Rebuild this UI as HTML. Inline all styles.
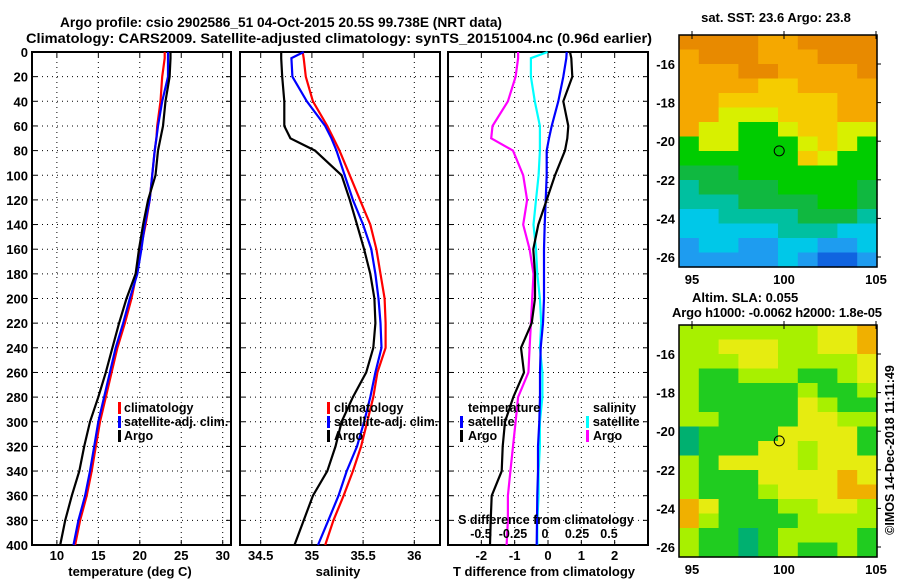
<!DOCTYPE html>
<html><head><meta charset="utf-8">
<style>
html,body{margin:0;padding:0;background:#fff;}
svg{display:block;font-family:"Liberation Sans",Arial,sans-serif;font-weight:bold;}
</style></head>
<body>
<svg id="chart" width="900" height="580" viewBox="0 0 900 580" xmlns="http://www.w3.org/2000/svg">
<text x="60" y="27" font-size="14" textLength="442" lengthAdjust="spacingAndGlyphs">Argo profile: csio 2902586_51 04-Oct-2015 20.5S 99.738E (NRT data)</text>
<text x="26" y="43" font-size="14" textLength="626" lengthAdjust="spacingAndGlyphs">Climatology: CARS2009. Satellite-adjusted climatology: synTS_20151004.nc (0.96d earlier)</text>
<g id="layer"></g>
</svg>
<script>
// ---- data ----
const depths = [0,5,20,40,60,70,80,100,120,140,160,180,200,220,240,260,280,300,320,340,360,380,400];
const tempClim = [23.0,23.0,22.7,22.5,22.1,22.0,21.8,21.5,21.2,20.7,20.1,19.6,19.0,18.2,17.3,16.6,15.9,15.2,14.7,14.2,13.6,12.8,12.2];
const tempSat  = [23.4,23.4,23.4,22.7,22.2,22.0,21.8,21.5,21.2,20.6,20.2,19.7,18.8,18.0,17.1,16.4,15.7,15.0,14.5,14.0,13.4,12.6,12.0];
const tempArgo = [23.7,23.7,23.6,23.1,22.8,22.5,22.2,21.9,21.0,20.4,19.9,19.5,18.4,17.5,16.7,15.9,15.0,14.0,13.3,12.7,11.8,11.0,10.4];
const salClim = [34.91,34.92,34.94,35.01,35.15,35.21,35.27,35.37,35.47,35.57,35.63,35.67,35.71,35.72,35.72,35.64,35.60,35.54,35.48,35.40,35.31,35.21,35.13];
const salSat  = [34.92,34.80,34.81,34.95,35.13,35.19,35.24,35.32,35.40,35.50,35.58,35.62,35.65,35.67,35.68,35.62,35.57,35.51,35.44,35.34,35.26,35.16,35.06];
const salArgo = [34.70,34.70,34.71,34.73,34.73,34.79,35.03,35.29,35.37,35.44,35.51,35.57,35.61,35.62,35.60,35.53,35.40,35.29,35.23,35.15,35.01,34.92,34.83];
const tDiffSat  = [0.56,0.55,0.46,0.31,0.11,0.03,-0.04,-0.04,-0.07,-0.10,-0.12,-0.12,-0.12,-0.15,-0.22,-0.24,-0.24,-0.26,-0.30,-0.30,-0.32,-0.33,-0.34];
const tDiffArgo = [0.66,0.70,0.73,0.46,0.61,0.58,0.51,0.21,-0.04,-0.29,-0.44,-0.39,-0.39,-0.49,-0.81,-0.72,-1.04,-1.29,-1.36,-1.39,-1.69,-1.72,-1.74];
const sDiffSat  = [0.02,-0.11,-0.11,-0.08,-0.04,-0.04,-0.04,-0.05,-0.07,-0.09,-0.07,-0.06,-0.04,-0.03,-0.04,-0.02,-0.02,-0.04,-0.04,-0.05,-0.05,-0.06,-0.06];
const sDiffArgo = [-0.21,-0.21,-0.23,-0.29,-0.41,-0.42,-0.25,-0.17,-0.14,-0.17,-0.12,-0.09,-0.10,-0.11,-0.12,-0.13,-0.21,-0.23,-0.25,-0.27,-0.29,-0.29,-0.30];
const depthTicks = [0,20,40,60,80,100,120,140,160,180,200,220,240,260,280,300,320,340,360,380,400];
const tempTicks = [10,15,20,25,30];
const salTicks = [34.5,35,35.5,36];
const tDiffTicks = [-2,-1,0,1,2];
const sDiffTicks = [-0.5,-0.25,0,0.25,0.5];
const lonTicks = [95,100,105];
const latTicks = [-16,-18,-20,-22,-24,-26];
const sstGrid = ["DDDDOODDDD","ODDDOOODDD","OOODDOOOOD","OOOOYYOOOO","OOYYYYYYOO","OOLLLYYYOO","OLLGGLYYLL","GLLGGGLYLG","GGGGGGYLGG","KKKGGGGGGG","TKKKKGGGGK","TTTKKKKGGK","CCTTTTKKKT","CCCCCTTTCC","BCCBBCCBBC","BBBBBCBNNB"];
const slaGrid = ["LLLLLLLYYO","LLYYYLLYYO","LLLYYLLLLY","LKKLLLKKLY","LKKKKKLKKL","LKKKKKYLKK","LLKKKKYYLL","TKKKKYYYYK","TKKKYYLYYK","LKYYYYLYYY","LKKKYYYYOY","LKKKLYYYOO","OYKKKLLYYL","OLKKKKLLLL","LKKTKLLLLK","LKKTKLKKLK"];
const profileLon = 99.74, profileLat = -20.5;

// ---- helpers ----
const NS="http://www.w3.org/2000/svg";
const layer=document.getElementById('layer');
function mk(tag,attrs,parent){const e=document.createElementNS(NS,tag);for(const k in attrs)e.setAttribute(k,attrs[k]);(parent||layer).appendChild(e);return e;}
const top0=52, bot0=545;
const yD=d=>top0+(bot0-top0)*d/400;
function lin(d0,d1,r0,r1){return v=>r0+(v-d0)*(r1-r0)/(d1-d0);}

function panel(name,x0,x1,xs,xticks,fmt,showY,labelY){
  const g=mk('g',{});
  
  
  depthTicks.forEach(d=>{
    const y=yD(d);
    const l=mk('line',{x1:x0,x2:x1,y1:y,y2:y,stroke:'#000','stroke-width':1,'stroke-dasharray':'1,4'},g);
    
    mk('line',{x1:x0,x2:x0+5,y1:y,y2:y,stroke:'#000','stroke-width':1},g);
    mk('line',{x1:x1-5,x2:x1,y1:y,y2:y,stroke:'#000','stroke-width':1},g);
    if(showY){const t=mk('text',{x:x0-4,y:y+5,'font-size':13,'text-anchor':'end'},g);t.textContent=d;
      }
  });
  xticks.forEach(v=>{
    const x=xs(v);
    const l=mk('line',{x1:x,x2:x,y1:top0,y2:bot0,stroke:'#000','stroke-width':1,'stroke-dasharray':'1,4'},g);
    
    mk('line',{x1:x,x2:x,y1:top0,y2:top0+5,stroke:'#000','stroke-width':1},g);
    mk('line',{x1:x,x2:x,y1:bot0-5,y2:bot0,stroke:'#000','stroke-width':1},g);
    const t=mk('text',{x:x,y:labelY,'font-size':13,'text-anchor':'middle'},g);t.textContent=fmt(v);
    
  });
  const r=mk('rect',{x:x0,y:top0,width:x1-x0,height:bot0-top0,fill:'none',stroke:'#000','stroke-width':2},g);
  
  return g;
}
function series(name,vals,xs,color,w){
  const pts=vals.map((v,i)=>xs(v).toFixed(1)+','+yD(depths[i]).toFixed(1)).join(' ');
  const p=mk('polyline',{points:pts,fill:'none',stroke:color,'stroke-width':w||2.2,'stroke-linejoin':'miter'});
  
  
}
function txt(name,s,x,y,size,anchor){
  const t=mk('text',{x:x,y:y,'font-size':size||13,'text-anchor':anchor||'start'});
  t.textContent=s;
  
  
  return t;
}
function legendMark(name,x,y,color){
  const r=mk('rect',{x:x,y:y-10,width:3,height:12,fill:color});
  
  
}

// ---- panel 1: temperature ----
const xT=lin(7,31,32,231);
panel('temperature-panel',32,231,xT,tempTicks,v=>v,true,560);
series('temp-climatology-line',tempClim,xT,'#ff0000');
series('temp-satellite-adj-line',tempSat,xT,'#0000ff');
series('temp-argo-line',tempArgo,xT,'#000000');
txt('x-axis-title-temperature','temperature (deg C)',130,576,13,'middle');
legendMark('legend-mark-climatology',118,412,'#ff0000');txt('legend-climatology','climatology',124,412,12.5);
legendMark('legend-mark-satellite-adj',118,426,'#0000ff');txt('legend-satellite-adj','satellite-adj. clim.',124,426,12.5);
legendMark('legend-mark-argo',118,440,'#000000');txt('legend-argo','Argo',124,440,12.5);

// ---- panel 2: salinity ----
const xS=lin(34.5,36,260.7,414.3);
panel('salinity-panel',240,440,xS,salTicks,v=>v,false,560);
series('sal-climatology-line',salClim,xS,'#ff0000');
series('sal-satellite-adj-line',salSat,xS,'#0000ff');
series('sal-argo-line',salArgo,xS,'#000000');
txt('x-axis-title-salinity','salinity',338,576,13,'middle');
legendMark('legend2-mark-climatology',327,412,'#ff0000');txt('legend2-climatology','climatology',334,412,12.5);
legendMark('legend2-mark-satellite-adj',327,426,'#0000ff');txt('legend2-satellite-adj','satellite-adj. clim.',334,426,12.5);
legendMark('legend2-mark-argo',327,440,'#000000');txt('legend2-argo','Argo',334,440,12.5);

// ---- panel 3: differences ----
const xTD=lin(-3,3,448,648);
const xSD=lin(-0.5,0.5,481,609);
panel('difference-panel',448,648,xTD,tDiffTicks.filter(v=>v!==-1&&v!==1).concat([]),v=>v,false,560);
// dotted grid at -1 and 1 already? add them
[-1,1].forEach(v=>{const l=mk('line',{x1:xTD(v),x2:xTD(v),y1:top0,y2:bot0,stroke:'#000','stroke-width':1,'stroke-dasharray':'1,4'});
 
 mk('line',{x1:xTD(v),x2:xTD(v),y1:bot0-5,y2:bot0,stroke:'#000'});mk('line',{x1:xTD(v),x2:xTD(v),y1:top0,y2:top0+5,stroke:'#000'});
 const t=txt('x-tick-label',String(v),xTD(v),560,13,'middle');});
series('sdiff-satellite-line',sDiffSat,xSD,'#00ffff');
series('sdiff-argo-line',sDiffArgo,xSD,'#ff00ff');
series('tdiff-satellite-line',tDiffSat,xTD,'#0000ff');
series('tdiff-argo-line',tDiffArgo,xTD,'#000000');
txt('x-axis-title-t-difference','T difference from climatology',544,576,13,'middle');
txt('s-axis-title','S difference from climatology',546,524,12.5,'middle');
sDiffTicks.forEach(v=>{txt('s-tick-label',String(v).replace('0.','.').replace('-.','-0.').replace(/^\./,'0.'),xSD(v),538,12.5,'middle');});
txt('legend3-temperature-heading','temperature',468,412,12.5);
legendMark('legend3-mark-temp-satellite',460,426,'#0000ff');txt('legend3-temp-satellite','satellite',468,426,12.5);
legendMark('legend3-mark-temp-argo',460,440,'#000000');txt('legend3-temp-argo','Argo',468,440,12.5);
txt('legend3-salinity-heading','salinity',593,412,12.5);
legendMark('legend3-mark-sal-satellite',586,426,'#00ffff');txt('legend3-sal-satellite','satellite',593,426,12.5);
legendMark('legend3-mark-sal-argo',586,440,'#ff00ff');txt('legend3-sal-argo','Argo',593,440,12.5);

// ---- maps ----
const sstColors={D:'#e88a00',O:'#f5a800',Y:'#f5cc00',L:'#d8f000',G:'#00cc00',K:'#10b840',T:'#00c0a0',C:'#00c8e8',B:'#1e9cf0',N:'#1064e0'};
const slaColors={O:'#f0b000',Y:'#e6ec10',L:'#a8f000',K:'#20cc20',T:'#00b070'};
function mapPanel(name,x0,x1,y0,y1,grid,colors,off){
  const g=mk('g',{});
  
  
  const rows=grid.length, cols=grid[0].length, cw=(x1-x0)/cols, ch=(y1-y0)/rows;
  grid.forEach((row,r)=>{[...row].forEach((c,k)=>{
    const cell=mk('rect',{x:(x0+k*cw).toFixed(2),y:(y0+r*ch).toFixed(2),width:(cw+0.6).toFixed(2),height:(ch+0.6).toFixed(2),fill:colors[c]},g);
    
  });});
  const xL=lin(95,105,692,876), yL=lin(-16,-26,64+off,257+off);
  mk('rect',{x:x0,y:y0,width:x1-x0,height:y1-y0,fill:'none',stroke:'#000','stroke-width':1.5},g);
  lonTicks.forEach(v=>{mk('line',{x1:xL(v),x2:xL(v),y1:y0,y2:y0+4,stroke:'#000'},g);mk('line',{x1:xL(v),x2:xL(v),y1:y0-4,y2:y0,stroke:'#000'},g);
    const t=mk('text',{x:xL(v),y:y1+17,'font-size':13,'text-anchor':'middle'},g);t.textContent=v;
    });
  latTicks.forEach(v=>{mk('line',{x1:x1,x2:x1+4,y1:yL(v),y2:yL(v),stroke:'#000'},g);
    const t=mk('text',{x:x0-4,y:yL(v)+5,'font-size':13,'text-anchor':'end'},g);t.textContent=v;
    });
  const c=mk('circle',{cx:xL(profileLon),cy:yL(profileLat),r:5,fill:'none',stroke:'#000','stroke-width':1},g);
  
}
mapPanel('sst-map',679,877,35,267,sstGrid,sstColors,0);
mapPanel('sla-map',679,877,325,557,slaGrid,slaColors,290);
txt('sst-map-title','sat. SST: 23.6 Argo: 23.8',776,22,13,'middle');
txt('sla-map-title-1','Altim. SLA: 0.055',692,302,13,'start');
txt('sla-map-title-2','Argo h1000: -0.0062 h2000: 1.8e-05',672,317,13,'start').setAttribute('textLength','210');
const cr=txt('imos-credit','©IMOS 14-Dec-2018 11:11:49',0,0,12.5,'middle');
cr.setAttribute('transform','translate(894,450) rotate(-90)');
</script>
</body></html>
